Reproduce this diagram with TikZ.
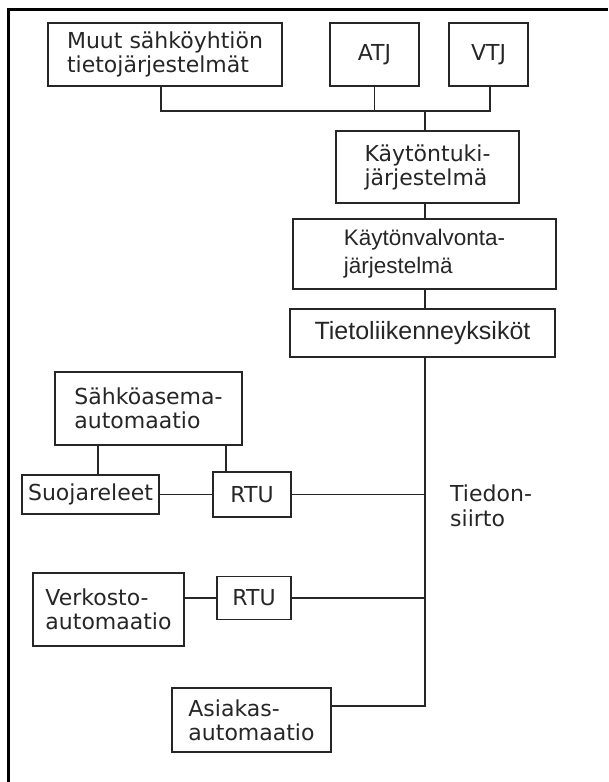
\documentclass[tikz,border=0pt]{standalone}
\usepackage{fontspec}
\setmainfont{DejaVu Sans}
\newfontfamily\arialf{Liberation Sans}
\begin{document}
\begin{tikzpicture}[x=1pt,y=-1pt,
  box/.style={draw=black!85, line width=1.9pt, rectangle, inner sep=0pt,
    align=left, font=\fontsize{22}{24}\selectfont, text=black!85},
  wire/.style={draw=black!85, line width=1.9pt},
  frameline/.style={draw=black, line width=3pt}]
\useasboundingbox (0,0) rectangle (608,782);

% outer frame (top and left edges only)
\draw[frameline] (8.5,782) -- (8.5,9) -- (608,9);

% information systems row
\node[box, minimum width=234pt, minimum height=63pt] (muut) at (165,54.5) {Muut sähköyhtiön\\tietojärjestelmät};
\node[box, minimum width=89pt, minimum height=63pt] (atj) at (374.5,54.5) {ATJ};
\node[box, minimum width=79pt, minimum height=63pt] (vtj) at (488.5,54.5) {VTJ};

% control centre chain
\node[box, minimum width=183pt, minimum height=72pt] (kt) at (427.5,167) {Käytöntuki-\\järjestelmä};
\node[box, minimum width=263pt, minimum height=70pt, font=\arialf\fontsize{22.5}{28}\selectfont] (kv) at (424.5,254) {Käytönvalvonta-\\järjestelmä};
\node[box, minimum width=265pt, minimum height=48pt, font=\arialf\fontsize{25}{28}\selectfont] (tl) at (422.5,333) {Tietoliikenneyksiköt};

% substation automation
\node[box, minimum width=187pt, minimum height=73pt] (sa) at (148.5,408.5) {Sähköasema-\\automaatio};
\node[box, minimum width=137pt, minimum height=39pt] (suo) at (90.5,494.5) {Suojareleet};
\node[box, minimum width=78pt, minimum height=45pt] (rtu1) at (252,494.5) {RTU};

% network automation
\node[box, minimum width=151pt, minimum height=73pt] (verk) at (108.5,609.5) {Verkosto-\\automaatio};
\node[box, minimum width=74pt, minimum height=43pt] (rtu2) at (254,598) {RTU};

% customer automation
\node[box, minimum width=159pt, minimum height=64pt] (asi) at (251.5,720) {Asiakas-\\automaatio};

% data transfer label
\node[anchor=north west, inner sep=0pt, align=left, font=\fontsize{22}{25}\selectfont, text=black!85] (tsiirto) at (450,485) {Tiedon-\\siirto};

% connection points
\coordinate (busL) at (161,111);
\coordinate (busR) at (490,111);
\coordinate (busM) at (425,111);
\coordinate (trunkEnd) at (425,706);
\coordinate (saA) at (98,0);
\coordinate (saB) at (226,0);

% upper bus
\draw[wire] (muut.south -| busL) -- (busL) -- (busR) -- (vtj.south -| busR);
\draw[wire] (atj.south) -- (atj.south |- busL);
\draw[wire] (busM) -- (busM |- kt.north);
\draw[wire] (busM |- kt.south) -- (busM |- kv.north);
\draw[wire] (busM |- kv.south) -- (busM |- tl.north);

% data transfer trunk
\draw[wire] (busM |- tl.south) -- (trunkEnd) -- (trunkEnd -| asi.east);

% substation links
\draw[wire] (sa.south -| saA) -- (suo.north -| saA);
\draw[wire] (sa.south -| saB) -- (rtu1.north -| saB);
\draw[wire] (suo.east) -- (rtu1.west);
\draw[wire] (rtu1.east) -- (rtu1.east -| busM);

% network links
\draw[wire] (rtu2.west) -- (rtu2.west -| verk.east);
\draw[wire] (rtu2.east) -- (rtu2.east -| busM);
\end{tikzpicture}
\end{document}
